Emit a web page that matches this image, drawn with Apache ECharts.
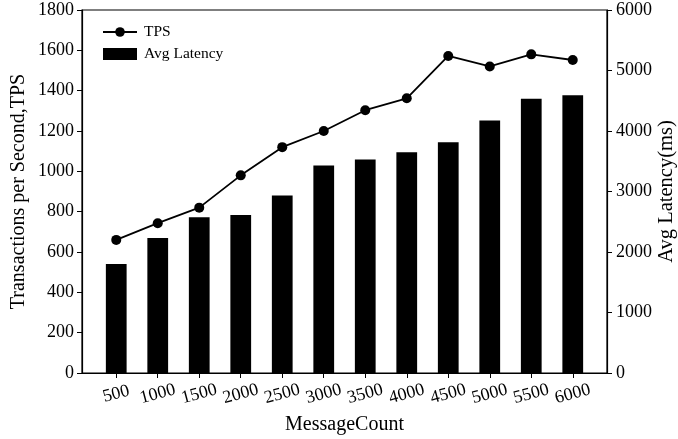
<!DOCTYPE html>
<html>
<head>
<meta charset="utf-8">
<script src="https://cdn.jsdelivr.net/npm/echarts@6/dist/echarts.min.js"></script>
<style>
html,body{margin:0;padding:0;background:#fff;}
#c{width:678px;height:439px;}
</style>
</head>
<body>
<div id="c"></div>
<script>
const messageCounts = [500, 1000, 1500, 2000, 2500, 3000, 3500, 4000, 4500, 5000, 5500, 6000];
const tpsValues = [660, 743, 820, 980, 1120, 1200, 1303, 1362, 1572, 1520, 1580, 1552];
const latencyValues = [1800, 2230, 2575, 2610, 2935, 3430, 3530, 3650, 3815, 4175, 4535, 4590];
const leftTicks = [0, 200, 400, 600, 800, 1000, 1200, 1400, 1600, 1800];
const rightTicks = [0, 1000, 2000, 3000, 4000, 5000, 6000];

const FONT = '"Liberation Serif", "Times New Roman", serif';
const chart = echarts.init(document.getElementById('c'), null, {renderer: 'canvas'});
const tickStyle = {color: '#000', fontFamily: FONT, fontSize: 18, formatter: v => String(v)};
chart.setOption({
  animation: false,
  backgroundColor: '#fff',
  grid: {left: 82, right: 71, top: 10, bottom: 66, show: true, borderColor: '#000', borderWidth: 1.2, containLabel: false, outerBoundsMode: 'none'},
  legend: {
    left: 97, top: 19, orient: 'vertical', itemWidth: 34, itemHeight: 12, itemGap: 6,
    textStyle: {color: '#000', fontFamily: FONT, fontSize: 15.5, padding: [0, 0, 0, 2]},
    data: [{name: 'TPS'}, {name: 'Avg Latency', icon: 'rect'}]
  },
  xAxis: {
    type: 'value', min: 87.5, max: 6412.5,
    name: 'MessageCount', nameLocation: 'middle', nameGap: 42, nameMoveOverlap: false,
    nameTextStyle: {color: '#000', fontFamily: FONT, fontSize: 20},
    axisLine: {show: true, lineStyle: {color: '#000', width: 1.2}},
    axisTick: {show: true, length: 5, lineStyle: {color: '#000'}, customValues: messageCounts},
    axisLabel: Object.assign({rotate: 15, align: 'center', verticalAlign: 'middle', margin: 21, customValues: messageCounts}, tickStyle),
    splitLine: {show: false}
  },
  yAxis: [{
    type: 'value', min: leftTicks[0], max: leftTicks[leftTicks.length - 1], interval: 200,
    name: 'Transactions per Second,TPS', nameLocation: 'middle', nameGap: 53, nameRotate: 90, nameMoveOverlap: false,
    nameTextStyle: {color: '#000', fontFamily: FONT, fontSize: 20},
    axisLine: {show: true, lineStyle: {color: '#000', width: 1.2}},
    axisTick: {show: true, length: 5, lineStyle: {color: '#000'}},
    axisLabel: Object.assign({margin: 8}, tickStyle),
    splitLine: {show: false}
  }, {
    type: 'value', position: 'right', min: rightTicks[0], max: rightTicks[rightTicks.length - 1], interval: 1000,
    name: 'Avg Latency(ms)', nameLocation: 'middle', nameGap: 49, nameRotate: 90, nameMoveOverlap: false,
    nameTextStyle: {color: '#000', fontFamily: FONT, fontSize: 20.5},
    axisLine: {show: true, lineStyle: {color: '#000', width: 1.2}},
    axisTick: {show: true, length: 5, lineStyle: {color: '#000'}},
    axisLabel: Object.assign({margin: 9}, tickStyle),
    splitLine: {show: false}
  }],
  series: [{
    name: 'Avg Latency', type: 'bar', yAxisIndex: 1, barWidth: 20.75,
    itemStyle: {color: '#000'},
    data: messageCounts.map((m, i) => [m, latencyValues[i]]),
    z: 1
  }, {
    name: 'TPS', type: 'line', yAxisIndex: 0,
    symbol: 'circle', symbolSize: 10,
    lineStyle: {color: '#000', width: 1.8}, itemStyle: {color: '#000'},
    data: messageCounts.map((m, i) => [m, tpsValues[i]]),
    z: 3
  }]
});
</script>
</body>
</html>
